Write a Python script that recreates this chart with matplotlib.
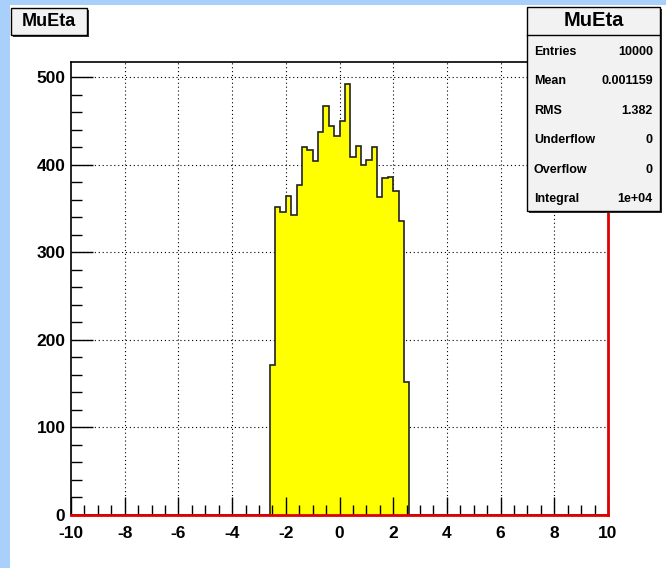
import numpy as np
import matplotlib
matplotlib.use("Agg")
import matplotlib.pyplot as plt
from matplotlib.patches import Rectangle

plt.rcParams['font.family'] = ['Liberation Sans', 'DejaVu Sans']
plt.rcParams['font.weight'] = 'bold'
plt.rcParams['axes.unicode_minus'] = False

# histogram MuEta: 100 bins on [-10, 10], non-empty bins from -2.6 to 2.6
x_min, x_max, n_bins = -10, 10, 100
first_bin = 37
nonzero_counts = [171, 352, 346, 365, 343, 377, 420, 417, 404, 438, 467, 444, 433,
                  450, 493, 409, 422, 400, 406, 420, 363, 385, 386, 370, 336, 152]

stat_names = ['Entries', 'Mean', 'RMS', 'Underflow', 'Overflow', 'Integral']
stat_values = ['10000', '0.001159', '1.382', '0', '0', '1e+04']
hist_name = 'MuEta'

x_ticks = [-10, -8, -6, -4, -2, 0, 2, 4, 6, 8, 10]
y_ticks = [0, 100, 200, 300, 400, 500]

edges = np.linspace(x_min, x_max, n_bins + 1)
counts = np.zeros(n_bins)
counts[first_bin:first_bin + len(nonzero_counts)] = nonzero_counts

W, H = 666, 568
fig = plt.figure(figsize=(W / 100, H / 100), dpi=100)
fig.patch.set_facecolor('white')


def fx(px):
    return px / W


def fy(py):
    return 1 - py / H


# light blue canvas border (left and top)
blue = '#a8d0fa'
fig.patches.append(Rectangle((0, 0), fx(10), 1, transform=fig.transFigure,
                             facecolor=blue, edgecolor='none', zorder=0))
fig.patches.append(Rectangle((0, fy(5)), 1, 1 - fy(5), transform=fig.transFigure,
                             facecolor=blue, edgecolor='none', zorder=0))

ax = fig.add_axes([fx(71), fy(515), fx(608 - 71), (515 - 62) / H])
ax.set_facecolor('white')

# grid under the histogram
for t in x_ticks[1:-1]:
    ax.axvline(t, color='black', lw=0.8, ls=(0, (1, 2.5)), zorder=0.5)
for t in y_ticks[1:]:
    ax.axhline(t, color='black', lw=0.8, ls=(0, (1, 2.5)), zorder=0.5)

ax.stairs(counts, edges, fill=True, color='#ffff00', zorder=1)
ax.stairs(counts, edges, color='#222222', lw=1.2, zorder=1.2)

ax.set_xlim(x_min, x_max)
ax.set_ylim(0, max(nonzero_counts) * 1.05)
ax.set_xticks(x_ticks)
ax.set_yticks(y_ticks)
ax.set_xticks(np.arange(-9.5, 10, 0.5), minor=True)
ax.set_yticks(np.arange(20, 520, 20), minor=True)
ax.tick_params(axis='x', which='major', direction='in', length=13, width=1,
               labelsize=12.5, pad=8)
ax.tick_params(axis='x', which='minor', direction='in', length=7, width=1)
ax.tick_params(axis='y', which='major', direction='in', length=16, width=1,
               labelsize=12.5, pad=4)
ax.tick_params(axis='y', which='minor', direction='in', length=8, width=1)
ax.tick_params(top=False, right=False, which='both')
for lab in ax.get_xticklabels() + ax.get_yticklabels():
    lab.set_fontweight('bold')

ax.spines['left'].set_color('black')
ax.spines['top'].set_color('black')
ax.spines['left'].set_linewidth(1.2)
ax.spines['top'].set_linewidth(1.2)
ax.spines['bottom'].set_color('#e00000')
ax.spines['right'].set_color('#e00000')
ax.spines['bottom'].set_linewidth(2)
ax.spines['right'].set_linewidth(2)


def root_box(x0, y0, x1, y1):
    # shadow then box, pixel coords from the top-left corner
    fig.patches.append(Rectangle((fx(x0 + 2), fy(y1 + 2)), fx(x1 - x0), (y1 - y0) / H,
                                 transform=fig.transFigure, facecolor='#333333',
                                 edgecolor='none', zorder=5))
    fig.patches.append(Rectangle((fx(x0), fy(y1)), fx(x1 - x0), (y1 - y0) / H,
                                 transform=fig.transFigure, facecolor='#f2f2f2',
                                 edgecolor='black', lw=1.0, zorder=6))


# title box
root_box(11, 8, 87, 35)
fig.text(fx(49), fy(22), hist_name, ha='center', va='center', fontsize=13,
         fontweight='bold', zorder=7)

# stats box
root_box(527, 7, 660, 211)
fig.lines.append(plt.Line2D([fx(527), fx(660)], [fy(35), fy(35)],
                            transform=fig.transFigure, color='black', lw=1.0, zorder=7))
fig.text(fx(594), fy(21), hist_name, ha='center', va='center', fontsize=14.5,
         fontweight='bold', zorder=7)
for i, (name, val) in enumerate(zip(stat_names, stat_values)):
    yy = 52 + i * 29.4
    fig.text(fx(534), fy(yy), name, ha='left', va='center', fontsize=9,
             fontweight='bold', zorder=7)
    fig.text(fx(653), fy(yy), val, ha='right', va='center', fontsize=9,
             fontweight='bold', zorder=7)

fig.savefig('out.png', dpi=100)
